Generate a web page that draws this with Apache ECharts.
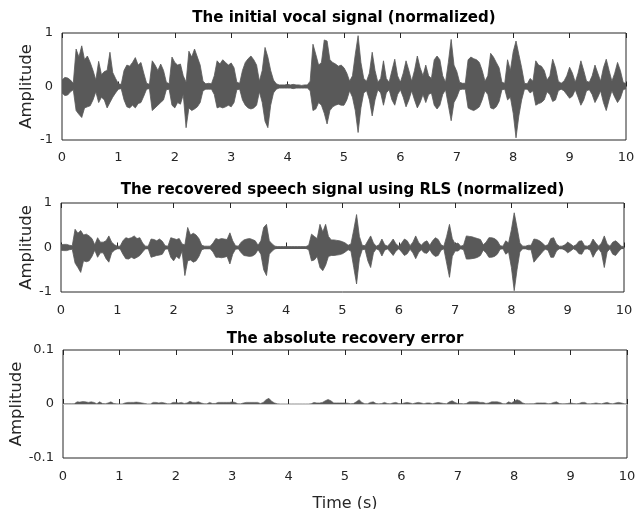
<!DOCTYPE html>
<html>
<head>
<meta charset="utf-8">
<script src="https://cdn.jsdelivr.net/npm/echarts@6/dist/echarts.min.js"></script>
<style>
  html, body { margin: 0; padding: 0; background: #fff; }
  #chart { width: 638px; height: 509px; }
</style>
</head>
<body>
<div id="chart"></div>
<script>
// Envelopes sampled every 0.05 s from 0 to 10 s (201 samples each)
const STEP = 0.05;

// Initial vocal signal (normalized): upper and lower envelope
const vocalUpper = [
  0.12,0.17,0.16,0.12,0.06,0.70,0.55,0.76,0.50,0.57,
  0.45,0.30,0.12,0.47,0.22,0.28,0.30,0.64,0.26,0.15,
  0.05,0.04,0.30,0.40,0.38,0.45,0.54,0.40,0.45,0.25,
  0.06,0.04,0.48,0.40,0.30,0.42,0.30,0.08,0.05,0.55,
  0.45,0.40,0.42,0.20,0.08,0.66,0.55,0.70,0.55,0.40,
  0.10,0.05,0.06,0.05,0.20,0.48,0.42,0.50,0.45,0.40,
  0.44,0.35,0.08,0.06,0.30,0.45,0.52,0.57,0.50,0.40,
  0.10,0.30,0.73,0.55,0.30,0.12,0.05,0.03,0.03,0.03,
  0.04,0.03,0.04,0.03,0.03,0.02,0.03,0.03,0.10,0.79,
  0.60,0.40,0.45,0.87,0.85,0.50,0.45,0.42,0.38,0.40,
  0.35,0.25,0.10,0.20,0.60,0.95,0.45,0.15,0.10,0.25,
  0.64,0.30,0.08,0.15,0.48,0.15,0.08,0.30,0.51,0.20,
  0.08,0.25,0.48,0.30,0.10,0.30,0.57,0.35,0.20,0.40,
  0.20,0.15,0.50,0.57,0.50,0.20,0.08,0.45,0.88,0.40,
  0.28,0.08,0.06,0.06,0.50,0.55,0.52,0.50,0.45,0.30,
  0.10,0.20,0.62,0.55,0.45,0.35,0.08,0.06,0.50,0.30,
  0.65,0.85,0.60,0.35,0.06,0.05,0.15,0.10,0.48,0.40,
  0.38,0.30,0.12,0.20,0.51,0.35,0.10,0.06,0.10,0.20,
  0.36,0.25,0.08,0.25,0.48,0.30,0.10,0.08,0.20,0.40,
  0.25,0.10,0.35,0.51,0.30,0.10,0.25,0.45,0.30,0.08,
  0.05
];
const vocalLower = [
  -0.12,-0.17,-0.16,-0.10,-0.06,-0.45,-0.52,-0.58,-0.40,-0.38,
  -0.36,-0.25,-0.10,-0.30,-0.20,-0.25,-0.40,-0.30,-0.20,-0.12,
  -0.05,-0.04,-0.25,-0.38,-0.40,-0.35,-0.40,-0.32,-0.30,-0.18,
  -0.05,-0.04,-0.45,-0.40,-0.35,-0.30,-0.25,-0.06,-0.05,-0.35,
  -0.40,-0.30,-0.33,-0.15,-0.77,-0.40,-0.45,-0.42,-0.38,-0.30,
  -0.08,-0.05,-0.05,-0.05,-0.15,-0.40,-0.38,-0.40,-0.38,-0.35,
  -0.38,-0.30,-0.06,-0.05,-0.25,-0.35,-0.40,-0.42,-0.40,-0.35,
  -0.10,-0.30,-0.65,-0.77,-0.35,-0.12,-0.05,-0.03,-0.03,-0.03,
  -0.03,-0.03,-0.04,-0.03,-0.03,-0.03,-0.03,-0.03,-0.08,-0.45,
  -0.42,-0.30,-0.35,-0.50,-0.70,-0.45,-0.38,-0.35,-0.33,-0.35,
  -0.35,-0.25,-0.08,-0.20,-0.45,-0.86,-0.40,-0.12,-0.08,-0.25,
  -0.55,-0.25,-0.06,-0.12,-0.35,-0.12,-0.06,-0.25,-0.35,-0.15,
  -0.06,-0.20,-0.38,-0.25,-0.08,-0.25,-0.40,-0.30,-0.15,-0.30,
  -0.15,-0.12,-0.35,-0.42,-0.35,-0.15,-0.06,-0.35,-0.64,-0.30,
  -0.20,-0.06,-0.05,-0.05,-0.40,-0.43,-0.45,-0.42,-0.38,-0.25,
  -0.08,-0.15,-0.40,-0.42,-0.38,-0.28,-0.06,-0.05,-0.25,-0.20,
  -0.50,-0.96,-0.55,-0.25,-0.05,-0.05,-0.12,-0.08,-0.35,-0.32,
  -0.30,-0.25,-0.10,-0.15,-0.28,-0.25,-0.08,-0.05,-0.08,-0.15,
  -0.22,-0.18,-0.06,-0.20,-0.35,-0.25,-0.08,-0.06,-0.15,-0.30,
  -0.20,-0.08,-0.30,-0.45,-0.25,-0.08,-0.20,-0.30,-0.22,-0.06,
  -0.04
];

// Speech recovered with RLS (normalized): upper and lower envelope
const rlsUpper = [
  0.06,0.07,0.07,0.05,0.04,0.41,0.32,0.38,0.28,0.30,
  0.26,0.20,0.06,0.22,0.12,0.12,0.15,0.26,0.12,0.06,
  0.03,0.03,0.15,0.22,0.20,0.22,0.26,0.20,0.22,0.10,
  0.03,0.03,0.19,0.18,0.15,0.19,0.14,0.04,0.03,0.22,
  0.20,0.18,0.20,0.08,0.06,0.45,0.28,0.32,0.28,0.20,
  0.05,0.03,0.03,0.03,0.10,0.20,0.18,0.20,0.19,0.18,
  0.33,0.15,0.04,0.03,0.12,0.17,0.19,0.20,0.18,0.15,
  0.05,0.15,0.45,0.52,0.15,0.08,0.03,0.02,0.02,0.02,
  0.02,0.02,0.02,0.02,0.02,0.02,0.02,0.02,0.05,0.30,
  0.25,0.20,0.52,0.35,0.52,0.25,0.17,0.17,0.16,0.15,
  0.13,0.10,0.05,0.08,0.40,0.74,0.25,0.05,0.04,0.15,
  0.26,0.10,0.03,0.06,0.19,0.06,0.03,0.10,0.19,0.08,
  0.03,0.10,0.19,0.15,0.04,0.12,0.26,0.12,0.05,0.12,
  0.15,0.05,0.15,0.22,0.18,0.06,0.03,0.25,0.52,0.20,
  0.08,0.10,0.03,0.05,0.26,0.25,0.24,0.22,0.20,0.18,
  0.06,0.12,0.22,0.22,0.20,0.15,0.04,0.03,0.15,0.10,
  0.40,0.78,0.45,0.10,0.03,0.03,0.05,0.05,0.19,0.18,
  0.15,0.10,0.04,0.06,0.20,0.22,0.08,0.03,0.03,0.06,
  0.12,0.08,0.03,0.06,0.14,0.15,0.04,0.03,0.06,0.19,
  0.10,0.03,0.10,0.26,0.08,0.03,0.12,0.15,0.10,0.03,
  0.02
];
const rlsLower = [
  -0.06,-0.07,-0.07,-0.05,-0.04,-0.35,-0.45,-0.56,-0.30,-0.32,
  -0.30,-0.20,-0.06,-0.22,-0.12,-0.12,-0.25,-0.33,-0.12,-0.06,
  -0.03,-0.03,-0.15,-0.25,-0.26,-0.22,-0.25,-0.22,-0.18,-0.10,
  -0.03,-0.03,-0.22,-0.20,-0.18,-0.17,-0.15,-0.04,-0.03,-0.22,
  -0.30,-0.20,-0.25,-0.08,-0.63,-0.30,-0.28,-0.33,-0.30,-0.20,
  -0.05,-0.03,-0.03,-0.03,-0.10,-0.22,-0.22,-0.23,-0.22,-0.20,
  -0.37,-0.15,-0.04,-0.03,-0.12,-0.18,-0.19,-0.20,-0.19,-0.15,
  -0.05,-0.15,-0.50,-0.63,-0.15,-0.08,-0.03,-0.02,-0.02,-0.02,
  -0.02,-0.02,-0.02,-0.02,-0.02,-0.02,-0.02,-0.02,-0.05,-0.30,
  -0.28,-0.20,-0.45,-0.52,-0.40,-0.20,-0.18,-0.18,-0.17,-0.16,
  -0.14,-0.10,-0.05,-0.08,-0.45,-0.82,-0.25,-0.05,-0.04,-0.30,
  -0.45,-0.12,-0.03,-0.06,-0.19,-0.06,-0.03,-0.10,-0.18,-0.08,
  -0.03,-0.10,-0.18,-0.14,-0.04,-0.12,-0.25,-0.12,-0.05,-0.12,
  -0.13,-0.05,-0.15,-0.20,-0.18,-0.06,-0.03,-0.35,-0.67,-0.20,
  -0.08,-0.08,-0.03,-0.05,-0.26,-0.26,-0.25,-0.24,-0.22,-0.18,
  -0.06,-0.12,-0.22,-0.22,-0.20,-0.15,-0.04,-0.03,-0.15,-0.10,
  -0.45,-0.97,-0.50,-0.10,-0.03,-0.03,-0.05,-0.05,-0.33,-0.25,
  -0.18,-0.10,-0.04,-0.06,-0.22,-0.22,-0.08,-0.03,-0.03,-0.06,
  -0.12,-0.08,-0.03,-0.06,-0.14,-0.15,-0.04,-0.03,-0.06,-0.22,
  -0.10,-0.03,-0.12,-0.45,-0.10,-0.03,-0.15,-0.18,-0.10,-0.03,
  -0.02
];

// Absolute recovery error
const absError = [
  0.0005,0.0005,0.0005,0.0005,0.0005,0.004,0.0035,0.0045,0.004,0.003,
  0.004,0.003,0.0005,0.004,0.001,0.0005,0.002,0.004,0.001,0.0003,
  0.0002,0.0002,0.002,0.003,0.003,0.003,0.0035,0.003,0.002,0.001,
  0.0002,0.0002,0.003,0.003,0.002,0.003,0.002,0.0005,0.0003,0.003,
  0.003,0.002,0.003,0.001,0.002,0.005,0.003,0.003,0.004,0.002,
  0.0005,0.0003,0.003,0.001,0.001,0.003,0.003,0.003,0.003,0.003,
  0.004,0.003,0.0005,0.0003,0.002,0.003,0.003,0.003,0.003,0.003,
  0.001,0.003,0.008,0.0105,0.005,0.002,0.0003,0.0001,0.0001,0.0001,
  0.0001,0.0001,0.0001,0.0001,0.0001,0.0001,0.0001,0.0001,0.0005,0.003,
  0.002,0.002,0.003,0.006,0.0085,0.006,0.002,0.002,0.002,0.002,
  0.002,0.0015,0.0005,0.001,0.004,0.008,0.003,0.0005,0.0005,0.003,
  0.004,0.001,0.0003,0.001,0.003,0.001,0.0003,0.002,0.003,0.001,
  0.0003,0.002,0.003,0.002,0.0005,0.002,0.003,0.002,0.0005,0.002,
  0.002,0.0005,0.002,0.003,0.002,0.001,0.0005,0.004,0.006,0.003,
  0.001,0.001,0.0003,0.001,0.004,0.004,0.004,0.004,0.003,0.003,
  0.001,0.002,0.004,0.004,0.004,0.003,0.0005,0.0005,0.004,0.002,
  0.005,0.008,0.006,0.002,0.0003,0.0003,0.0005,0.0005,0.002,0.002,
  0.002,0.002,0.0005,0.001,0.003,0.004,0.001,0.0003,0.0005,0.001,
  0.002,0.001,0.0003,0.001,0.003,0.003,0.0005,0.0003,0.001,0.002,
  0.001,0.0003,0.002,0.003,0.001,0.0003,0.002,0.003,0.002,0.0005,
  0.0003
];

const panelTitles = [
  'The initial vocal signal (normalized)',
  'The recovered speech signal using RLS (normalized)',
  'The absolute recovery error'
];
const xTicks = [0, 1, 2, 3, 4, 5, 6, 7, 8, 9, 10];
const yRangeSignal = [-1, 1, 1];      // min, max, interval
const yRangeError = [-0.1, 0.1, 0.1];

const FONT = '"DejaVu Sans", "Liberation Sans", Arial, sans-serif';
const WAVE = '#595959';
const INK = '#262626';

function pairs(values) {
  return values.map((v, i) => [+(i * STEP).toFixed(2), v]);
}

const grids = [
  { left: 62, right: 12, top: 33, height: 107 },
  { left: 61, right: 14, top: 203, height: 89 },
  { left: 63, right: 11, top: 350, height: 108 }
];
const xLabelMargin = [11, 12, 12];
const yNameGap = [27, 26, 38];

const xAxes = [];
const yAxes = [];
grids.forEach((g, i) => {
  xAxes.push({
    type: 'value', gridIndex: i, position: 'bottom',
    min: xTicks[0], max: xTicks[xTicks.length - 1], interval: 1,
    axisLine: { show: false },
    axisTick: { show: true, inside: true, length: 5, lineStyle: { color: INK, width: 1 } },
    splitLine: { show: false },
    axisLabel: { show: true, margin: xLabelMargin[i], color: INK, fontSize: 13, fontFamily: FONT },
    name: i === 2 ? 'Time (s)' : '',
    nameLocation: 'middle', nameGap: 38, nameMoveOverlap: false,
    nameTextStyle: { color: INK, fontSize: 16, fontFamily: FONT }
  });
  xAxes.push({
    type: 'value', gridIndex: i, position: 'top',
    min: xTicks[0], max: xTicks[xTicks.length - 1], interval: 1,
    axisLine: { show: false },
    axisTick: { show: true, inside: true, length: 5, lineStyle: { color: INK, width: 1 } },
    splitLine: { show: false },
    axisLabel: { show: false }
  });
  const r = i === 2 ? yRangeError : yRangeSignal;
  yAxes.push({
    type: 'value', gridIndex: i,
    min: r[0], max: r[1], interval: r[2],
    axisLine: { show: false },
    axisTick: { show: false },
    splitLine: { show: false },
    axisLabel: { margin: 9, color: INK, fontSize: 13, fontFamily: FONT },
    name: 'Amplitude', nameLocation: 'middle', nameRotate: 90,
    nameGap: yNameGap[i], nameMoveOverlap: false,
    nameTextStyle: { color: INK, fontSize: 16.5, fontFamily: FONT }
  });
});

function envelope(values, gi) {
  return {
    type: 'line', xAxisIndex: gi * 2, yAxisIndex: gi,
    data: pairs(values), symbol: 'none', silent: true,
    lineStyle: { color: WAVE, width: 0.8 },
    areaStyle: { color: WAVE, opacity: 1, origin: 'auto' },
    z: 2
  };
}

// dark centre trace of the waveform at zero amplitude
function centreLine(color, width) {
  return {
    silent: true, symbol: 'none', label: { show: false },
    lineStyle: { color: color, width: width, type: 'solid' },
    data: [{ yAxis: 0 }]
  };
}

const series = [
  envelope(vocalUpper, 0),
  Object.assign(envelope(vocalLower, 0), { markLine: centreLine(WAVE, 2) }),
  envelope(rlsUpper, 1),
  Object.assign(envelope(rlsLower, 1), { markLine: centreLine(WAVE, 2) }),
  {
    type: 'line', xAxisIndex: 4, yAxisIndex: 2,
    data: pairs(absError), symbol: 'none', silent: true,
    lineStyle: { color: WAVE, width: 0.6 },
    areaStyle: { color: WAVE, opacity: 1, origin: 'auto' },
    markLine: centreLine('#c8c8c8', 1),
    z: 2
  }
];

const titleTops = [10, 182, 331];
const titles = panelTitles.map((t, i) => ({
  text: t,
  left: grids[i].left + (638 - grids[i].left - grids[i].right) / 2,
  textAlign: 'center',
  top: titleTops[i],
  padding: 0,
  textStyle: { color: '#000', fontSize: 15, fontWeight: 'bold', fontFamily: FONT, lineHeight: 16 }
}));

const chart = echarts.init(document.getElementById('chart'), null, { renderer: 'canvas' });
chart.setOption({
  animation: false,
  backgroundColor: '#fff',
  title: titles,
  grid: grids.map(g => Object.assign({
    show: true, borderColor: INK, borderWidth: 1, backgroundColor: 'transparent',
    containLabel: false, outerBoundsMode: 'none'
  }, g)),
  xAxis: xAxes,
  yAxis: yAxes,
  series: series
});
</script>
</body>
</html>
